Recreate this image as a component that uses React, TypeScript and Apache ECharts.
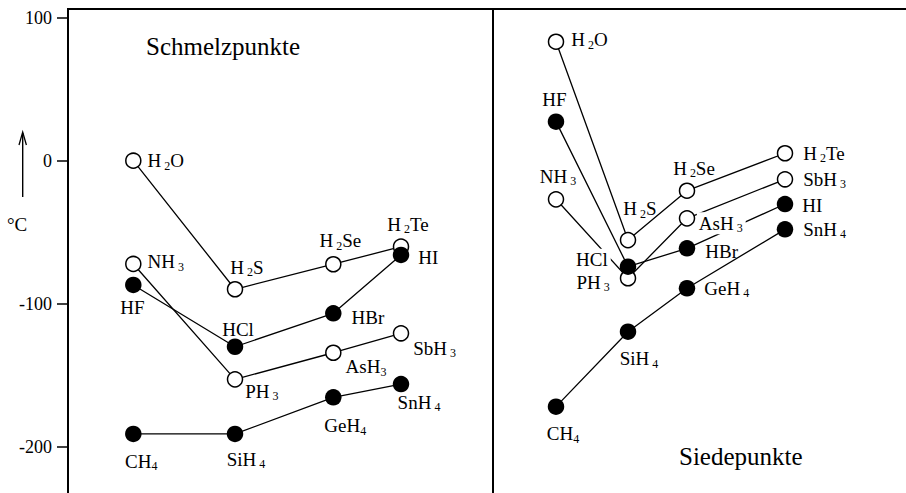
import React, { useEffect, useRef } from "react";
import * as echarts from "echarts";

// Compounds by group, columns = periods 2..5
const groupO = ["H2O", "H2S", "H2Se", "H2Te"];
const groupN = ["NH3", "PH3", "AsH3", "SbH3"];
const groupF = ["HF", "HCl", "HBr", "HI"];
const groupC = ["CH4", "SiH4", "GeH4", "SnH4"];

// Schmelzpunkte (°C)
const meltO = [0, -89.9, -72.4, -60.1];
const meltN = [-72.2, -152.9, -134.3, -120.7];
const meltF = [-86.9, -130.1, -106.7, -65.9];
const meltC = [-191.1, -191.1, -165.5, -156.2];

// Siedepunkte (°C)
const boilO = [83.2, -55.5, -21.0, 5.2];
const boilN = [-27.0, -82.2, -40.3, -13.0];
const boilF = [27.3, -74.1, -61.3, -30.3];
const boilC = [-172.0, -119.6, -89.2, -48.0];

// y axis ticks
const yMin = -300;
const yMax = 200;
const yInterval = 100;
const yTickLabels = [100, 0, -100, -200];

const titles = ["Schmelzpunkte", "Siedepunkte"];
const unitLabel = "°C";

// ---------- layout (positions/styles) ----------
const MELT_X = [133.3, 235, 333.3, 401];
const BOIL_X = [556, 628, 687, 785];

type LabelLayout = [string, number, number, boolean?, boolean?]; // pos, dx, dy, tight, whiteBg

const meltLayout: Record<string, LabelLayout[]> = {
  O: [["right", 6, 0], ["top", 12, -3], ["top", 7, -4], ["top", 7, -3]],
  N: [["right", 6, -2], ["right", 2, 12], ["right", 4, 14, true], ["right", 4, 15]],
  F: [["bottom", -1, 3], ["top", 3, 2], ["right", 10, 4], ["right", 9, 3]],
  C: [["bottom", 8, 8, true], ["bottom", 11, 6], ["bottom", 12, 9, true], ["bottom", 18, -1]],
};
const boilLayout: Record<string, LabelLayout[]> = {
  O: [["right", 7, -2], ["top", 12, -12], ["top", 7, -3], ["right", 10, 0]],
  N: [["top", 2, -4], ["left", -10, 4], ["right", 1.6, 5, false, true], ["right", 10, 0]],
  F: [["top", -1.5, -3], ["left", -9, -7, false, true], ["right", 10, 3], ["right", 9, 1]],
  C: [["bottom", 7, 8, true], ["bottom", 11, 8], ["right", 9, 0], ["right", 10, 0]],
};

const FONT = "Liberation Serif";

const RICH = {
  n: { fontFamily: FONT, fontSize: 19, lineHeight: 22, color: "#000" },
  s: { fontFamily: FONT, fontSize: 12, lineHeight: 13, verticalAlign: "bottom", padding: [0, 0, 0, 3], color: "#000" },
  t: { fontFamily: FONT, fontSize: 12, lineHeight: 13, verticalAlign: "bottom", padding: [0, 0, 0, 0], color: "#000" },
};

function richName(name: string, tight?: boolean) {
  return name.replace(/[A-Za-z]+|\d+/g, (m) =>
    /\d/.test(m) ? `{${tight ? "t" : "s"}|${m}}` : `{n|${m}}`
  );
}

function makeSeries(
  names: string[],
  values: number[],
  xs: number[],
  layout: LabelLayout[],
  filled: boolean
) {
  return {
    type: "line",
    silent: true,
    animation: false,
    symbol: "circle",
    symbolSize: filled ? 16.5 : 15,
    itemStyle: {
      color: filled ? "#000" : "#fff",
      borderColor: "#000",
      borderWidth: filled ? 0 : 1.5,
    },
    lineStyle: { color: "#000", width: 1.3 },
    emphasis: { disabled: true },
    label: { show: true, rich: RICH, color: "#000" },
    data: values.map((v, i) => {
      const [pos, dx, dy, tight, bg] = layout[i];
      const label: any = {
        show: true,
        position: pos,
        distance: 0,
        offset: [dx, dy],
        formatter: richName(names[i], tight),
        rich: RICH,
      };
      if (bg) {
        label.backgroundColor = "#fff";
        label.padding = [0, 3, 0, 2];
      }
      return { name: names[i], value: [xs[i], v], label };
    }),
  };
}

export default function App() {
  const ref = useRef<HTMLDivElement>(null);

  useEffect(() => {
    document.body.style.margin = "0";
    const chart = echarts.init(ref.current!, null, { renderer: "svg" });
    const option: any = {
      animation: false,
      backgroundColor: "#fff",
      textStyle: { fontFamily: FONT },
      title: [
        {
          text: titles[0],
          left: 146,
          top: 34,
          padding: 0,
          textStyle: { fontFamily: FONT, fontSize: 25, fontWeight: "normal", color: "#000" },
        },
        {
          text: titles[1],
          left: 679,
          top: 444,
          padding: 0,
          textStyle: { fontFamily: FONT, fontSize: 25, fontWeight: "normal", color: "#000" },
        },
      ],
      grid: {
        left: 68,
        right: 0,
        top: -125.3,
        bottom: -96.7,
        containLabel: false,
        outerBoundsMode: "none",
      },
      xAxis: {
        type: "value",
        min: 68,
        max: 906,
        show: false,
      },
      yAxis: {
        type: "value",
        min: yMin,
        max: yMax,
        interval: yInterval,
        axisLine: { show: false },
        axisTick: { show: true, length: 11, lineStyle: { color: "#000", width: 1.5 } },
        axisLabel: {
          margin: 16,
          color: "#000",
          fontFamily: FONT,
          fontSize: 18,
          formatter: (v: number) => (yTickLabels.indexOf(v) >= 0 ? String(v) : ""),
        },
        splitLine: { show: false },
      },
      graphic: [
        { type: "line", silent: true, shape: { x1: 68, y1: 9, x2: 68, y2: 493 }, style: { stroke: "#000", lineWidth: 2 } },
        { type: "line", silent: true, shape: { x1: 67, y1: 9, x2: 906, y2: 9 }, style: { stroke: "#000", lineWidth: 2 } },
        { type: "line", silent: true, shape: { x1: 493, y1: 9, x2: 493, y2: 493 }, style: { stroke: "#000", lineWidth: 2 } },
        { type: "line", silent: true, shape: { x1: 22.7, y1: 133, x2: 22.7, y2: 197 }, style: { stroke: "#000", lineWidth: 1.4 } },
        {
          type: "polyline",
          silent: true,
          shape: { points: [[19, 145], [22.7, 132], [26.4, 145]] },
          style: { stroke: "#000", lineWidth: 1.3, fill: null },
        },
        {
          type: "text",
          silent: true,
          style: { text: unitLabel, x: 7, y: 224, verticalAlign: "middle", font: `19px "${FONT}"`, fill: "#000" },
        },
      ],
      series: [
        makeSeries(groupO, meltO, MELT_X, meltLayout.O, false),
        makeSeries(groupN, meltN, MELT_X, meltLayout.N, false),
        makeSeries(groupF, meltF, MELT_X, meltLayout.F, true),
        makeSeries(groupC, meltC, MELT_X, meltLayout.C, true),
        makeSeries(groupO, boilO, BOIL_X, boilLayout.O, false),
        makeSeries(groupN, boilN, BOIL_X, boilLayout.N, false),
        makeSeries(groupF, boilF, BOIL_X, boilLayout.F, true),
        makeSeries(groupC, boilC, BOIL_X, boilLayout.C, true),
      ],
    };
    chart.setOption(option);
    return () => chart.dispose();
  }, []);

  return <div ref={ref} style={{ width: 906, height: 493 }} />;
}
